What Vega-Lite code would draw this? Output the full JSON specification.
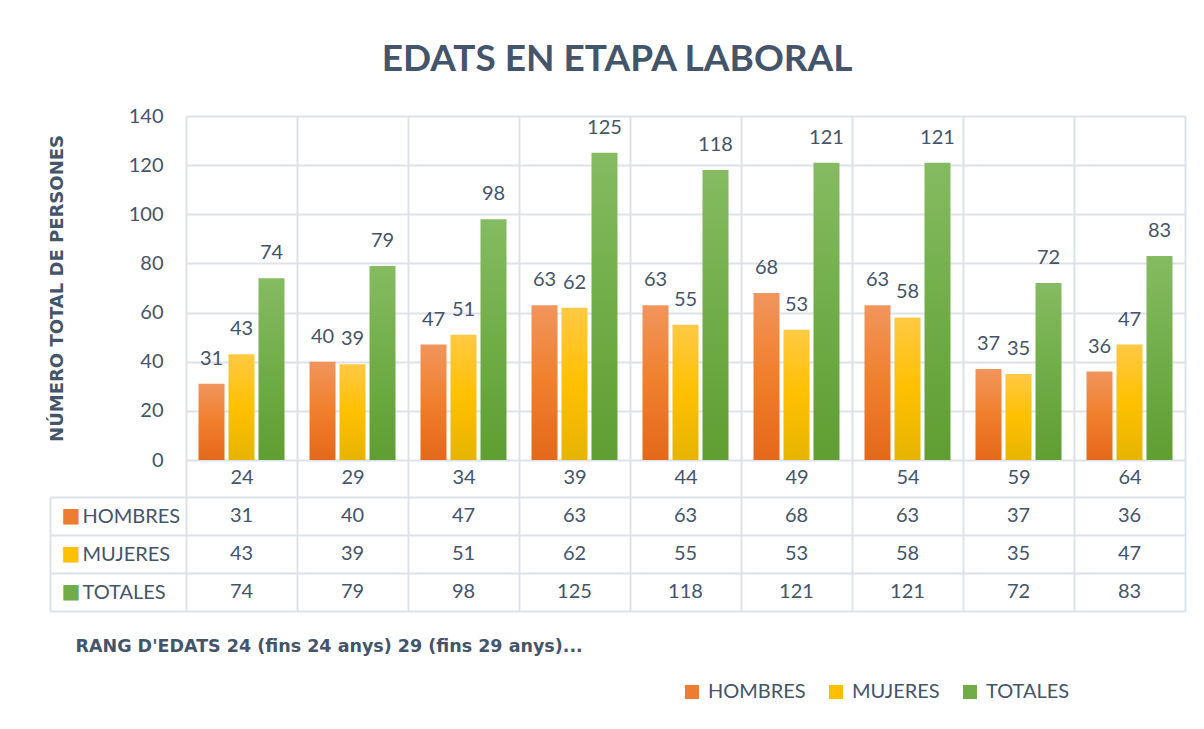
{
  "$schema": "https://vega.github.io/schema/vega-lite/v6.json",
  "padding": {"left": 48, "top": 41, "right": 10, "bottom": 10},
  "background": "white",
  "title": {"text": "EDATS EN ETAPA LABORAL", "fontSize": 37, "font": "Lato", "fontWeight": "bold", "color": "#44546a", "anchor": "middle", "offset": 27},
  "data": {"values": [
    {"edat": "24", "serie": "HOMBRES", "n": 31}, {"edat": "24", "serie": "MUJERES", "n": 43}, {"edat": "24", "serie": "TOTALES", "n": 74},
    {"edat": "29", "serie": "HOMBRES", "n": 40}, {"edat": "29", "serie": "MUJERES", "n": 39}, {"edat": "29", "serie": "TOTALES", "n": 79},
    {"edat": "34", "serie": "HOMBRES", "n": 47}, {"edat": "34", "serie": "MUJERES", "n": 51}, {"edat": "34", "serie": "TOTALES", "n": 98},
    {"edat": "39", "serie": "HOMBRES", "n": 63}, {"edat": "39", "serie": "MUJERES", "n": 62}, {"edat": "39", "serie": "TOTALES", "n": 125},
    {"edat": "44", "serie": "HOMBRES", "n": 63}, {"edat": "44", "serie": "MUJERES", "n": 55}, {"edat": "44", "serie": "TOTALES", "n": 118},
    {"edat": "49", "serie": "HOMBRES", "n": 68}, {"edat": "49", "serie": "MUJERES", "n": 53}, {"edat": "49", "serie": "TOTALES", "n": 121},
    {"edat": "54", "serie": "HOMBRES", "n": 63}, {"edat": "54", "serie": "MUJERES", "n": 58}, {"edat": "54", "serie": "TOTALES", "n": 121},
    {"edat": "59", "serie": "HOMBRES", "n": 37}, {"edat": "59", "serie": "MUJERES", "n": 35}, {"edat": "59", "serie": "TOTALES", "n": 72},
    {"edat": "64", "serie": "HOMBRES", "n": 36}, {"edat": "64", "serie": "MUJERES", "n": 47}, {"edat": "64", "serie": "TOTALES", "n": 83}
  ]},
  "spacing": 37,
  "bounds": "flush",
  "vconcat": [
    {
      "width": 999,
      "height": 344,
      "encoding": {
        "x": {"field": "edat", "type": "ordinal", "sort": null,
          "scale": {"paddingInner": 0, "paddingOuter": 0},
          "axis": {"orient": "bottom", "title": null, "tickBand": "extent", "grid": true, "gridColor": "#dde2ea", "gridWidth": 2,
            "ticks": true, "tickSize": 37, "tickColor": "#dde2ea", "tickWidth": 2, "domain": false,
            "labelFontSize": 20, "labelColor": "#44546a", "labelPadding": -30, "labelAngle": 0}},
        "y": {"field": "n", "type": "quantitative", "scale": {"domain": [0, 140]},
          "axis": {"values": [0, 20, 40, 60, 80, 100, 120, 140], "grid": true, "gridColor": "#dde2ea", "gridWidth": 2,
            "ticks": false, "domain": false, "labelFontSize": 20, "labelColor": "#44546a", "labelPadding": 23,
            "title": "NÚMERO TOTAL DE PERSONES", "titleFont": "DejaVu Sans", "titleFontSize": 18, "titleFontWeight": "bold", "titleColor": "#44546a", "titlePadding": 62}},
        "xOffset": {"field": "serie", "type": "nominal", "scale": {"domain": ["HOMBRES", "MUJERES", "TOTALES"], "paddingInner": 0.1333, "paddingOuter": 0.4167}}
      },
      "layer": [
        {"transform": [{"filter": "datum.serie === 'HOMBRES'"}],
         "mark": {"type": "bar", "color": {"gradient": "linear", "x1": 0, "y1": 0, "x2": 0, "y2": 1,
           "stops": [{"offset": 0, "color": "#f1955c"}, {"offset": 0.5, "color": "#f07f2c"}, {"offset": 1, "color": "#e4681a"}]}}},
        {"transform": [{"filter": "datum.serie === 'MUJERES'"}],
         "mark": {"type": "bar", "color": {"gradient": "linear", "x1": 0, "y1": 0, "x2": 0, "y2": 1,
           "stops": [{"offset": 0, "color": "#ffc944"}, {"offset": 0.5, "color": "#ffc000"}, {"offset": 1, "color": "#e6b400"}]}}},
        {"transform": [{"filter": "datum.serie === 'TOTALES'"}],
         "mark": {"type": "bar", "color": {"gradient": "linear", "x1": 0, "y1": 0, "x2": 0, "y2": 1,
           "stops": [{"offset": 0, "color": "#85bb62"}, {"offset": 0.5, "color": "#70ad47"}, {"offset": 1, "color": "#5e9e32"}]}}},
        {"mark": {"type": "text", "baseline": "alphabetic", "dy": -19, "fontSize": 20, "color": "#44546a"},
         "encoding": {"text": {"field": "n", "type": "quantitative"}}},
        {"mark": {"type": "square", "opacity": 0},
         "encoding": {"color": {"field": "serie", "type": "nominal",
           "scale": {"domain": ["HOMBRES", "MUJERES", "TOTALES"], "range": ["#ed7d31", "#ffc000", "#70ad47"]},
           "legend": {"title": null, "orient": "none", "legendX": 496, "legendY": 566, "direction": "horizontal",
             "symbolType": "square", "symbolSize": 196, "symbolOpacity": 1, "symbolStrokeWidth": 0,
             "labelFontSize": 20, "labelColor": "#44546a", "columnPadding": 20, "labelOffset": 6}}}}
      ]
    },
    {
      "width": 999,
      "height": 114,
      "encoding": {
        "x": {"field": "edat", "type": "ordinal", "sort": null,
          "scale": {"paddingInner": 0, "paddingOuter": 0},
          "axis": {"orient": "bottom", "tickBand": "extent", "grid": true, "gridColor": "#dde2ea", "gridWidth": 2,
            "ticks": false, "labels": false, "domain": false,
            "title": "RANG D'EDATS 24 (fins 24 anys) 29 (fins 29 anys)...", "titleFont": "DejaVu Sans", "titleFontSize": 17.5, "titleFontWeight": "bold",
            "titleColor": "#44546a", "titleAnchor": "start", "titleAlign": "left", "titleX": -111, "titlePadding": 26}},
        "y": {"field": "serie", "type": "nominal", "scale": {"domain": ["HOMBRES", "MUJERES", "TOTALES"], "paddingInner": 0, "paddingOuter": 0}}
      },
      "layer": [
        {"mark": {"type": "text", "fontSize": 20, "color": "#44546a"},
         "encoding": {"text": {"field": "n", "type": "quantitative"},
           "y": {"field": "serie", "type": "nominal", "scale": {"domain": ["HOMBRES", "MUJERES", "TOTALES"], "paddingInner": 0, "paddingOuter": 0},
             "axis": {"orient": "left", "title": null, "tickBand": "extent", "grid": true, "gridColor": "#dde2ea", "gridWidth": 2,
               "ticks": true, "tickSize": 136, "tickColor": "#dde2ea", "tickWidth": 2, "domain": false,
               "labelAlign": "left", "labelPadding": -32, "labelFontSize": 20, "labelColor": "#44546a"}}}},
        {"mark": {"type": "rect", "opacity": 0},
         "encoding": {
           "y": {"field": "serie", "type": "nominal",
             "axis": {"orient": "left", "title": null, "offset": 136, "grid": false, "ticks": false,
               "domain": true, "domainColor": "#dde2ea", "domainWidth": 2,
               "labelExpr": "'■'", "labelAlign": "left", "labelPadding": -11, "labelFontSize": 20, "labelFont": "DejaVu Sans",
               "labelColor": {"condition": [{"test": "datum.value === 'HOMBRES'", "value": "#ed7d31"}, {"test": "datum.value === 'MUJERES'", "value": "#ffc000"}], "value": "#70ad47"}}}}}
      ],
      "resolve": {"axis": {"y": "independent"}}
    }
  ],
  "config": {"font": "Lato", "view": {"stroke": null}}
}
